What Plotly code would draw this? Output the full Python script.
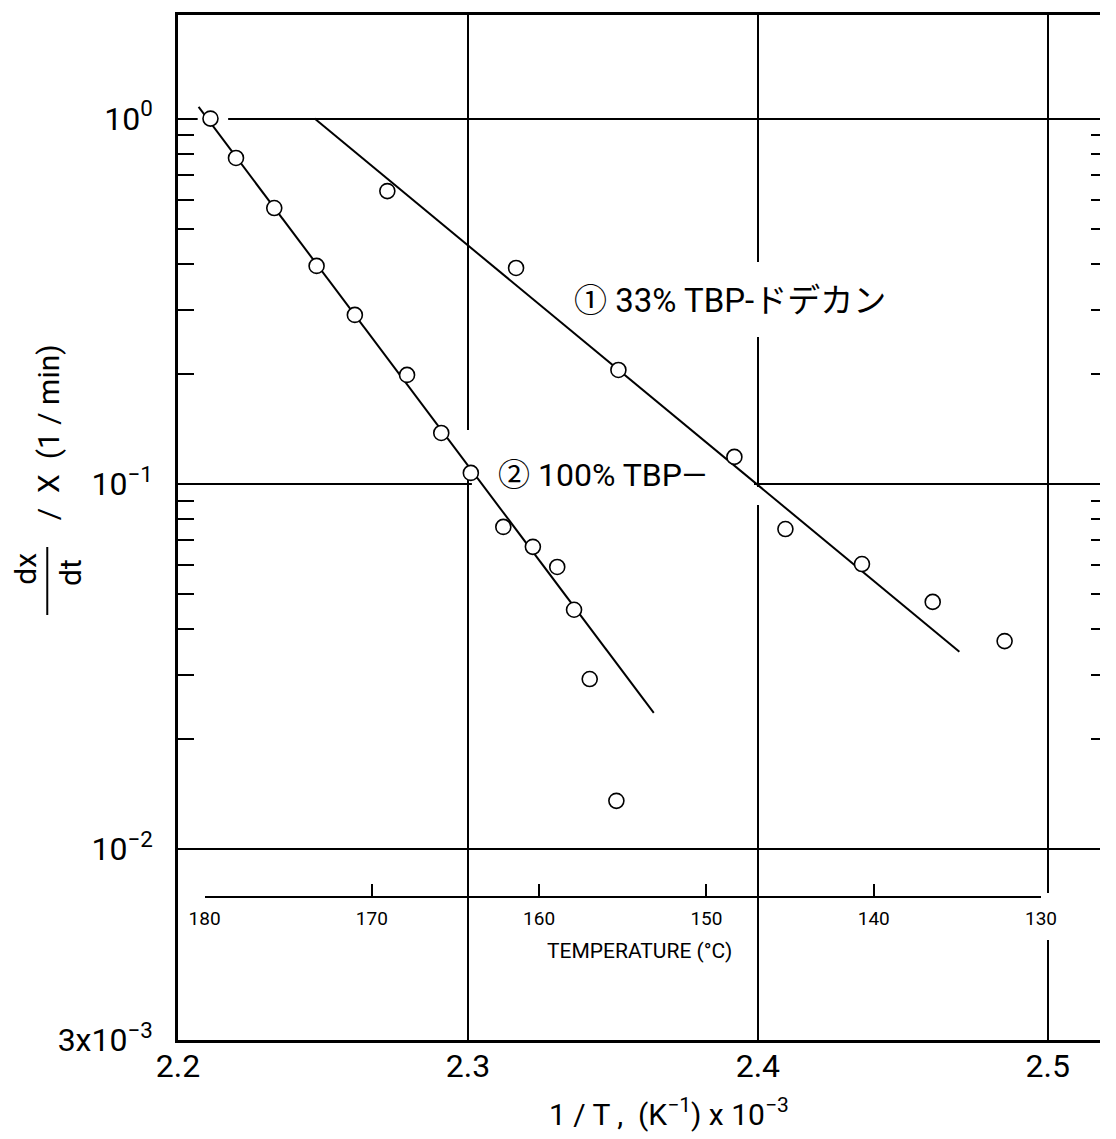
import plotly.graph_objects as go

# ---------------- data ----------------
# series 2: 100% TBP
x_100 = [2.2112, 2.2200, 2.2332, 2.2478, 2.2610, 2.2790, 2.2908, 2.3010,
         2.3122, 2.3224, 2.3308, 2.3366, 2.3420, 2.3512]
y_100 = [1.00, 0.780, 0.569, 0.395, 0.290, 0.1987, 0.1378, 0.1071,
         0.0762, 0.0672, 0.0592, 0.0452, 0.0292, 0.01355]
fit_100_x = [2.2071, 2.3641]
fit_100_y = [1.076, 0.0236]

# series 1: 33% TBP-dodecane
x_33 = [2.2722, 2.3166, 2.3519, 2.3919, 2.4095, 2.4359, 2.4603, 2.4851]
y_33 = [0.633, 0.390, 0.205, 0.1185, 0.0752, 0.0603, 0.0475, 0.0371]
fit_33_x = [2.2471, 2.4695]
fit_33_y = [1.0, 0.0347]

x_ticks = [2.2, 2.3, 2.4, 2.5]
x_tick_text = ["2.2", "2.3", "2.4", "2.5"]
y_ticks = [1, 0.1, 0.01, 0.003]
y_tick_text = ["10<sup>0</sup>", "10<sup>\u22121</sup>", "10<sup>\u22122</sup>", "3x10<sup>\u22123</sup>"]
y_minor = [0.02, 0.03, 0.04, 0.05, 0.06, 0.07, 0.08, 0.09,
           0.2, 0.3, 0.4, 0.5, 0.6, 0.7, 0.8, 0.9]
temp_ticks = [180, 170, 160, 150, 140, 130]
temp_range = [180, 130]

label_1 = "\u2460 33% TBP-\u30c9\u30c7\u30ab\u30f3"
label_2 = "\u2461 100% TBP\u2014"

# ---------------- layout geometry (page pixel coords) ----------------
W, H = 1116, 1139
P_LEFT, P_RIGHT, P_TOP, P_BOTTOM = 178, 1116, 15, 1040   # plot area
ML, MR, MT, MB = P_LEFT, W - P_RIGHT, P_TOP, H - P_BOTTOM
PW = P_RIGHT - P_LEFT
PH = P_BOTTOM - P_TOP
Y_RANGE = [-2.5229, 0.2836]
X_RANGE = [2.2, 2.518]


def px_x(p):
    return (p - P_LEFT) / PW


def px_y(p):
    return (P_BOTTOM - p) / PH


def px_to_xdata(p):
    return X_RANGE[0] + px_x(p) * (X_RANGE[1] - X_RANGE[0])


def px_to_ydata(p):
    return 10 ** (Y_RANGE[0] + px_y(p) * (Y_RANGE[1] - Y_RANGE[0]))


FONT = "Roboto, Liberation Sans, sans-serif"
JFONT = "Roboto, Noto Sans CJK JP, sans-serif"

fig = go.Figure()

fig.add_trace(go.Scatter(x=fit_100_x, y=fit_100_y, mode="lines",
                         line=dict(color="black", width=2), showlegend=False,
                         hoverinfo="skip"))
fig.add_trace(go.Scatter(x=fit_33_x, y=fit_33_y, mode="lines",
                         line=dict(color="black", width=2), showlegend=False,
                         hoverinfo="skip"))
fig.add_trace(go.Scatter(x=x_100, y=y_100, mode="markers",
                         marker=dict(symbol="circle", size=15, color="white",
                                     line=dict(color="black", width=1.6)),
                         showlegend=False))
fig.add_trace(go.Scatter(x=x_33, y=y_33, mode="markers",
                         marker=dict(symbol="circle", size=15, color="white",
                                     line=dict(color="black", width=1.6)),
                         showlegend=False))
# invisible helper traces so the auxiliary axes get drawn
fig.add_trace(go.Scatter(x=[2.3, 2.3], y=[0.05, 0.05], xaxis="x", yaxis="y2",
                         mode="lines", line=dict(width=0, color="rgba(0,0,0,0)"),
                         showlegend=False, hoverinfo="skip"))
fig.add_trace(go.Scatter(x=temp_range, y=[0.5, 0.5], xaxis="x2", yaxis="y3",
                         mode="lines", line=dict(width=0, color="rgba(0,0,0,0)"),
                         showlegend=False, hoverinfo="skip"))

fig.update_layout(
    width=W, height=H, autosize=False,
    margin=dict(l=ML, r=MR, t=MT, b=MB, pad=0),
    paper_bgcolor="white", plot_bgcolor="rgba(0,0,0,0)",
    showlegend=False,
    xaxis=dict(
        range=X_RANGE, tickvals=x_ticks, ticktext=x_tick_text,
        showgrid=True, gridcolor="black", gridwidth=1.5,
        showline=True, linecolor="black", linewidth=2.5, mirror=True,
        ticks="", zeroline=False,
        tickfont=dict(family=FONT, size=32, color="black"),
        ticklabelstandoff=-4,
    ),
    yaxis=dict(
        type="log", range=Y_RANGE,
        tickvals=y_ticks, ticktext=y_tick_text,
        showgrid=True, gridcolor="black", gridwidth=1.5,
        showline=True, linecolor="black", linewidth=2.5, mirror=False,
        ticks="", zeroline=False,
        tickfont=dict(family=FONT, size=32, color="black"),
        ticklabelstandoff=16,
        minor=dict(tickvals=y_minor, ticks="inside", ticklen=16,
                   tickwidth=2, tickcolor="black", showgrid=False),
    ),
    yaxis2=dict(
        type="log", range=Y_RANGE, overlaying="y", side="right", anchor="x",
        tickvals=y_minor, ticks="inside", ticklen=9, tickwidth=2,
        tickcolor="black", showticklabels=False, showgrid=False,
        showline=False, zeroline=False,
    ),
    yaxis3=dict(
        range=[0, 1], domain=[0, 1], anchor="x2", visible=False,
        showgrid=False, zeroline=False,
    ),
    xaxis2=dict(
        domain=[px_x(205), px_x(1056)], anchor="free", position=px_y(897),
        range=temp_range, tickvals=temp_ticks,
        ticktext=[str(t) for t in temp_ticks],
        ticks="inside", ticklen=12, tickwidth=1.5, tickcolor="black",
        showline=True, linecolor="black", linewidth=2,
        showgrid=False, zeroline=False, side="bottom",
        tickfont=dict(family=FONT, size=19, color="black"),
        ticklabelstandoff=4,
    ),
)

annotations = [
    dict(text=label_1, x=px_x(740), y=px_y(300), xref="paper", yref="paper",
         showarrow=False, font=dict(family=JFONT, size=33, color="black"),
         bgcolor="white", xanchor="center", yanchor="middle"),
    dict(text=label_2, x=px_x(502), y=px_y(475), xref="paper", yref="paper",
         showarrow=False, font=dict(family=JFONT, size=32, color="black"),
         bgcolor="white", xanchor="left", yanchor="middle"),
    dict(text="TEMPERATURE (\u00b0C)", x=px_x(648), y=px_y(951), xref="paper", yref="paper",
         showarrow=False, font=dict(family=FONT, size=21, color="black"),
         xanchor="center", yanchor="middle"),
    dict(text="1 / T ,  (K<sup>\u22121</sup>) x 10<sup>\u22123</sup>", x=px_x(678), y=px_y(1112),
         xref="paper", yref="paper", showarrow=False,
         font=dict(family=FONT, size=30, color="black"),
         xanchor="center", yanchor="middle"),
    dict(text="dx", x=px_x(22), y=px_y(569), xref="paper", yref="paper",
         showarrow=False, textangle=-90,
         font=dict(family=FONT, size=30, color="black"),
         xanchor="center", yanchor="middle"),
    dict(text="dt", x=px_x(68), y=px_y(572), xref="paper", yref="paper",
         showarrow=False, textangle=-90,
         font=dict(family=FONT, size=30, color="black"),
         xanchor="center", yanchor="middle"),
    dict(text="/  X  (1 / min)", x=px_x(46), y=px_y(432), xref="paper", yref="paper",
         showarrow=False, textangle=-90,
         font=dict(family=FONT, size=30, color="black"),
         xanchor="center", yanchor="middle"),
]
fig.update_layout(annotations=annotations)

# fraction bar of dx/dt
fig.add_shape(type="line", xref="paper", yref="paper",
              x0=px_x(45), x1=px_x(45), y0=px_y(547), y1=px_y(615),
              line=dict(color="black", width=2))

# gaps in the grid lines around labels (as in the original drawing)
grid_gaps = [  # (x0, x1, y0, y1) in pixels
    (198, 229, 113, 124),
    (477, 764, 478, 490),
    (467, 479, 430, 480),
    (762, 774, 262, 337),
    (762, 774, 487, 505),
    (1057, 1069, 893, 940),
]
for gx0, gx1, gy0, gy1 in grid_gaps:
    fig.add_shape(type="rect", xref="x", yref="y",
                  x0=px_to_xdata(gx0), x1=px_to_xdata(gx1),
                  y0=px_to_ydata(gy1), y1=px_to_ydata(gy0),
                  fillcolor="white", line=dict(width=0), layer="between")

fig.write_html(
    "out.html",
    config={"displayModeBar": False},
    post_script=("document.body.style.margin='0px';"
                 "document.body.style.overflow='hidden';"
                 "document.documentElement.style.overflow='hidden';"),
)
